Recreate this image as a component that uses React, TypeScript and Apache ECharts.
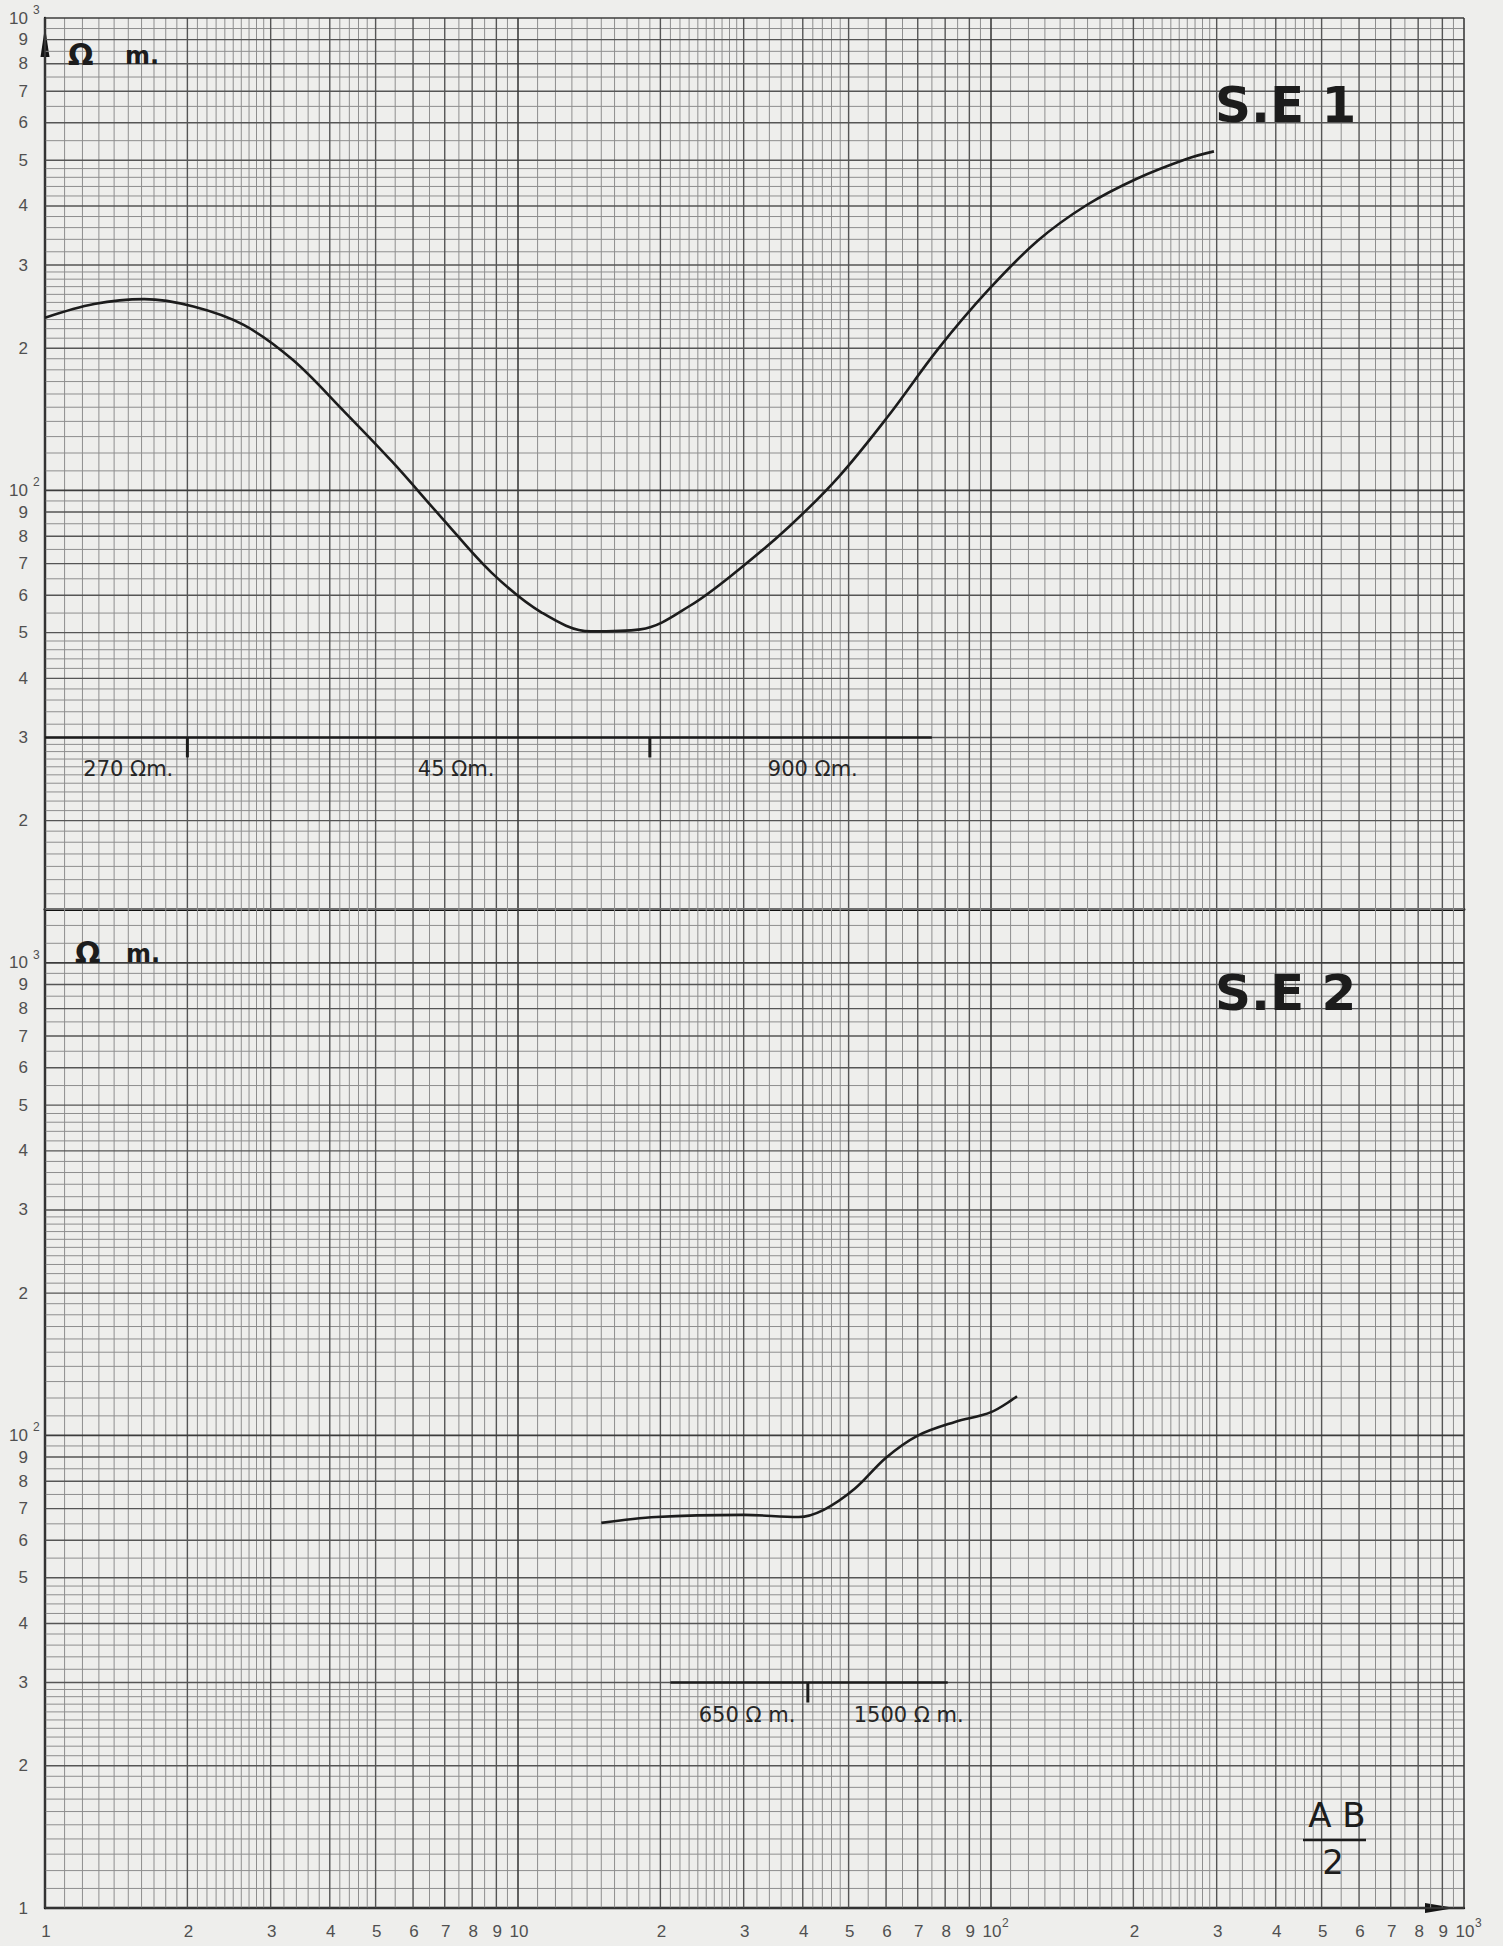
import React, { useEffect, useRef } from "react";
import * as echarts from "echarts";

// Vertical electrical soundings (Schlumberger): AB/2 in metres vs apparent resistivity in Ω·m
const SE1_AB2 = [1, 1.27, 1.62, 2.06, 2.63, 3.34, 4.26, 5.42, 6.9, 8.79, 11.2, 14.25, 18.15, 23.1, 29.4, 37.5, 47.7, 60.7, 77.4, 98.5, 125.5, 159.7, 203.3, 259, 296];
const SE1_RHO = [232, 248, 254, 245, 224, 189, 148, 115, 87.5, 67, 55.2, 50.3, 50.8, 57, 68.2, 84, 107, 143.9, 199.6, 265, 337.6, 402.4, 456.9, 503, 522];

const SE2_AB2 = [15, 19.6, 30, 39.2, 44.3, 51.5, 59.9, 69.7, 83.9, 100, 113.5];
const SE2_RHO = [65.3, 67.2, 67.9, 67.2, 69.6, 77.1, 89.6, 99.7, 106.8, 112, 121];

// Interpreted layers: true resistivity (Ω·m) and AB/2 limits of each layer
const SE1_LAYER_RHO = [270, 45, 900];
const SE1_LAYER_BOUNDS = [1, 2, 19, 75];
const SE2_LAYER_RHO = [650, 1500];
const SE2_LAYER_BOUNDS = [21, 41, 81];

// Tick labels ("^" marks an exponent)
const X_TICKS = [1, 2, 3, 4, 5, 6, 7, 8, 9, 10, 20, 30, 40, 50, 60, 70, 80, 90, 100, 200, 300, 400, 500, 600, 700, 800, 900, 1000];
const X_TICK_TEXT = ["1", "2", "3", "4", "5", "6", "7", "8", "9", "10", "2", "3", "4", "5", "6", "7", "8", "9", "10^2", "2", "3", "4", "5", "6", "7", "8", "9", "10^3"];
const TOP_Y_TICKS = [20, 30, 40, 50, 60, 70, 80, 90, 100, 200, 300, 400, 500, 600, 700, 800, 900, 1000];
const TOP_Y_TICK_TEXT = ["2", "3", "4", "5", "6", "7", "8", "9", "10^2", "2", "3", "4", "5", "6", "7", "8", "9", "10^3"];
const BOTTOM_Y_TICKS = [10, 20, 30, 40, 50, 60, 70, 80, 90, 100, 200, 300, 400, 500, 600, 700, 800, 900, 1000];
const BOTTOM_Y_TICK_TEXT = ["1", "2", "3", "4", "5", "6", "7", "8", "9", "10^2", "2", "3", "4", "5", "6", "7", "8", "9", "10^3"];

// Log-paper rulings within one decade
const PAPER_DECADES = [1, 10, 100, 1000];
const PAPER_MAJOR = [1, 2, 3, 4, 5, 6, 7, 8, 9];
const PAPER_MINOR = [1.1, 1.2, 1.3, 1.4, 1.5, 1.6, 1.7, 1.8, 1.9, 2.1, 2.2, 2.3, 2.4, 2.5, 2.6, 2.7, 2.8, 2.9, 3.2, 3.4, 3.6, 3.8, 4.2, 4.4, 4.6, 4.8, 5.5, 6.5, 7.5, 8.5, 9.5];

// ---- layout ----
const W = 1503;
const H = 1946;
const LEFT = 45;
const PLOT_W = 1419;
const TOP = 18;
const DIVIDER = 909;
const BOTTOM = 1908;
const X_MIN = 1;
const X_MAX = 1000;
const TOP_Y_MIN = 13;
const TOP_Y_MAX = 1000;
const BOT_Y_MIN = 10;
const BOT_Y_MAX = 1300;
const BAR_LEVEL = 30;
const SE1_LABEL_AT = [1.5, 7.4, 42];
const SE2_LABEL_AT = [30.5, 67];

const INK = "#1c1c1c";
const LABEL_INK = "#505050";
const LABEL_FONT = "17px 'Liberation Sans', 'DejaVu Sans', sans-serif";
const SUP_FONT = "12px 'Liberation Sans', 'DejaVu Sans', sans-serif";
const NOTE_FONT = "21px 'DejaVu Sans', 'Liberation Sans', sans-serif";

type Ruling = { v: number; kind: "decade" | "major" | "minor" };

function rulings(lo: number, hi: number): Ruling[] {
  const out: Ruling[] = [];
  for (const base of PAPER_DECADES) {
    for (const m of PAPER_MAJOR) out.push({ v: m * base, kind: m === 1 ? "decade" : "major" });
    for (const m of PAPER_MINOR) out.push({ v: m * base, kind: "minor" });
  }
  return out.filter((r) => r.v >= lo * 0.9999 && r.v <= hi * 1.0001);
}

const RULE_STYLE: Record<string, { stroke: string; lineWidth: number }> = {
  decade: { stroke: "#3c3c3c", lineWidth: 1.6 },
  major: { stroke: "#555555", lineWidth: 1.4 },
  minor: { stroke: "#8e8e8e", lineWidth: 1 },
};

function paperSeries(idx: number, yMin: number, yMax: number) {
  const xs = rulings(X_MIN, X_MAX);
  const ys = rulings(yMin, yMax);
  return {
    type: "custom",
    xAxisIndex: idx,
    yAxisIndex: idx,
    silent: true,
    z: 1,
    data: [[X_MIN, yMin]],
    renderItem: (_params: any, api: any) => {
      const children: any[] = [];
      const order = ["minor", "major", "decade"];
      for (const kind of order) {
        for (const r of xs) {
          if (r.kind !== kind) continue;
          const a = api.coord([r.v, yMin]);
          const b = api.coord([r.v, yMax]);
          children.push({ type: "line", shape: { x1: a[0], y1: a[1], x2: b[0], y2: b[1] }, style: { ...RULE_STYLE[kind] } });
        }
        for (const r of ys) {
          if (r.kind !== kind) continue;
          const a = api.coord([X_MIN, r.v]);
          const b = api.coord([X_MAX, r.v]);
          children.push({ type: "line", shape: { x1: a[0], y1: a[1], x2: b[0], y2: b[1] }, style: { ...RULE_STYLE[kind] } });
        }
      }
      return { type: "group", children };
    },
  };
}

function tickText(x: number, y: number, text: string, align: "right" | "center") {
  const [base, sup] = text.split("^");
  const children: any[] = [
    {
      type: "text",
      x,
      y,
      style: { text: base, font: LABEL_FONT, fill: LABEL_INK, align, textAlign: align, verticalAlign: "middle", textVerticalAlign: "middle" },
    },
  ];
  if (sup) {
    children.push({
      type: "text",
      x: align === "right" ? x + 5 : x + 10,
      y: y - 8,
      style: { text: sup, font: SUP_FONT, fill: LABEL_INK, align: "left", textAlign: "left", verticalAlign: "middle", textVerticalAlign: "middle" },
    });
  }
  return { type: "group", children };
}

function yLabelSeries(idx: number, ticks: number[], texts: string[]) {
  return {
    type: "custom",
    xAxisIndex: idx,
    yAxisIndex: idx,
    silent: true,
    z: 6,
    data: ticks.map((v) => [X_MIN, v]),
    renderItem: (params: any, api: any) => {
      const p = api.coord([X_MIN, ticks[params.dataIndex]]);
      return tickText(p[0] - 17, p[1], texts[params.dataIndex], "right");
    },
  };
}

function xLabelSeries() {
  return {
    type: "custom",
    xAxisIndex: 1,
    yAxisIndex: 1,
    silent: true,
    z: 6,
    data: X_TICKS.map((v) => [v, BOT_Y_MIN]),
    renderItem: (params: any, api: any) => {
      const p = api.coord([X_TICKS[params.dataIndex], BOT_Y_MIN]);
      return tickText(p[0] + 1, p[1] + 23, X_TICK_TEXT[params.dataIndex], "center");
    },
  };
}

function layerSeries(idx: number, rhos: number[], bounds: number[], labelAt: number[], unit: string) {
  return {
    type: "custom",
    xAxisIndex: idx,
    yAxisIndex: idx,
    silent: true,
    z: 4,
    data: rhos.map((_r, i) => [bounds[i], BAR_LEVEL]),
    renderItem: (params: any, api: any) => {
      const i = params.dataIndex;
      const a = api.coord([bounds[i], BAR_LEVEL]);
      const b = api.coord([bounds[i + 1], BAR_LEVEL]);
      const c = api.coord([labelAt[i], BAR_LEVEL]);
      const children: any[] = [
        { type: "line", shape: { x1: a[0], y1: a[1], x2: b[0], y2: b[1] }, style: { stroke: INK, lineWidth: 2.5 } },
      ];
      if (i > 0) {
        children.push({ type: "line", shape: { x1: a[0], y1: a[1], x2: a[0], y2: a[1] + 20 }, style: { stroke: INK, lineWidth: 3 } });
      }
      children.push({
        type: "text",
        x: c[0],
        y: c[1] + 32,
        style: { text: `${rhos[i]} ${unit}`, font: NOTE_FONT, fill: "#262626", align: "center", textAlign: "center", verticalAlign: "middle", textVerticalAlign: "middle" },
      });
      return { type: "group", children };
    },
  };
}

function curveSeries(idx: number, xs: number[], ys: number[]) {
  return {
    type: "line",
    xAxisIndex: idx,
    yAxisIndex: idx,
    data: xs.map((x, i) => [x, ys[i]]),
    smooth: 0.35,
    showSymbol: false,
    symbol: "none",
    silent: true,
    z: 5,
    lineStyle: { color: INK, width: 2.6 },
  };
}

const hiddenAxisParts = {
  axisTick: { show: false },
  axisLabel: { show: false },
  splitLine: { show: false },
  minorTick: { show: false },
  minorSplitLine: { show: false },
};

function text(x: number, y: number, t: string, font: string, align = "left") {
  return {
    type: "text",
    x,
    y,
    z: 10,
    silent: true,
    style: { text: t, font, fill: INK, align, textAlign: align, verticalAlign: "middle", textVerticalAlign: "middle" },
  };
}

export default function App() {
  const ref = useRef<HTMLDivElement>(null);

  useEffect(() => {
    if (!ref.current) return;
    const chart = echarts.init(ref.current, null, { renderer: "svg" });
    const axisInk = { color: "#151515", width: 2.4 };

    chart.setOption({
      animation: false,
      backgroundColor: "#eeeeec",
      grid: [
        { left: LEFT, top: TOP, width: PLOT_W, height: DIVIDER - TOP },
        { left: LEFT, top: DIVIDER, width: PLOT_W, height: BOTTOM - DIVIDER },
      ],
      xAxis: [
        {
          type: "log",
          logBase: 10,
          gridIndex: 0,
          min: X_MIN,
          max: X_MAX,
          ...hiddenAxisParts,
          axisLine: { show: true, lineStyle: { color: "#111", width: 2.8 } },
        },
        {
          type: "log",
          logBase: 10,
          gridIndex: 1,
          min: X_MIN,
          max: X_MAX,
          ...hiddenAxisParts,
          axisLine: {
            show: true,
            symbol: ["none", "triangle"],
            symbolSize: [10, 30],
            symbolOffset: [0, -24],
            lineStyle: axisInk,
          },
        },
      ],
      yAxis: [
        {
          type: "log",
          logBase: 10,
          gridIndex: 0,
          min: TOP_Y_MIN,
          max: TOP_Y_MAX,
          ...hiddenAxisParts,
          axisLine: {
            show: true,
            symbol: ["none", "triangle"],
            symbolSize: [9, 30],
            symbolOffset: [0, -24],
            lineStyle: axisInk,
          },
        },
        {
          type: "log",
          logBase: 10,
          gridIndex: 1,
          min: BOT_Y_MIN,
          max: BOT_Y_MAX,
          ...hiddenAxisParts,
          axisLine: { show: true, lineStyle: axisInk },
        },
      ],
      series: [
        paperSeries(0, TOP_Y_MIN, TOP_Y_MAX),
        paperSeries(1, BOT_Y_MIN, BOT_Y_MAX),
        yLabelSeries(0, TOP_Y_TICKS, TOP_Y_TICK_TEXT),
        yLabelSeries(1, BOTTOM_Y_TICKS, BOTTOM_Y_TICK_TEXT),
        xLabelSeries(),
        layerSeries(0, SE1_LAYER_RHO, SE1_LAYER_BOUNDS, SE1_LABEL_AT, "Ωm."),
        layerSeries(1, SE2_LAYER_RHO, SE2_LAYER_BOUNDS, SE2_LABEL_AT, "Ω m."),
        curveSeries(0, SE1_AB2, SE1_RHO),
        curveSeries(1, SE2_AB2, SE2_RHO),
      ],
      graphic: [
        text(68, 54, "Ω", "bold 30px 'DejaVu Sans', sans-serif"),
        text(125, 56, "m.", "bold 24px 'DejaVu Sans', sans-serif"),
        text(75, 952, "Ω", "bold 30px 'DejaVu Sans', sans-serif"),
        text(126, 954, "m.", "bold 24px 'DejaVu Sans', sans-serif"),
        text(1215, 105, "S.E 1", "bold 50px 'DejaVu Sans', sans-serif"),
        text(1215, 993, "S.E 2", "bold 50px 'DejaVu Sans', sans-serif"),
        text(1337, 1815, "A B", "34px 'DejaVu Sans', sans-serif", "center"),
        {
          type: "line",
          z: 10,
          silent: true,
          shape: { x1: 1303, y1: 1840, x2: 1366, y2: 1840 },
          style: { stroke: INK, lineWidth: 2.5 },
        },
        text(1333, 1862, "2", "34px 'DejaVu Sans', sans-serif", "center"),
      ],
    });

    return () => chart.dispose();
  }, []);

  return <div ref={ref} style={{ position: "absolute", left: 0, top: 0, width: W, height: H }} />;
}
